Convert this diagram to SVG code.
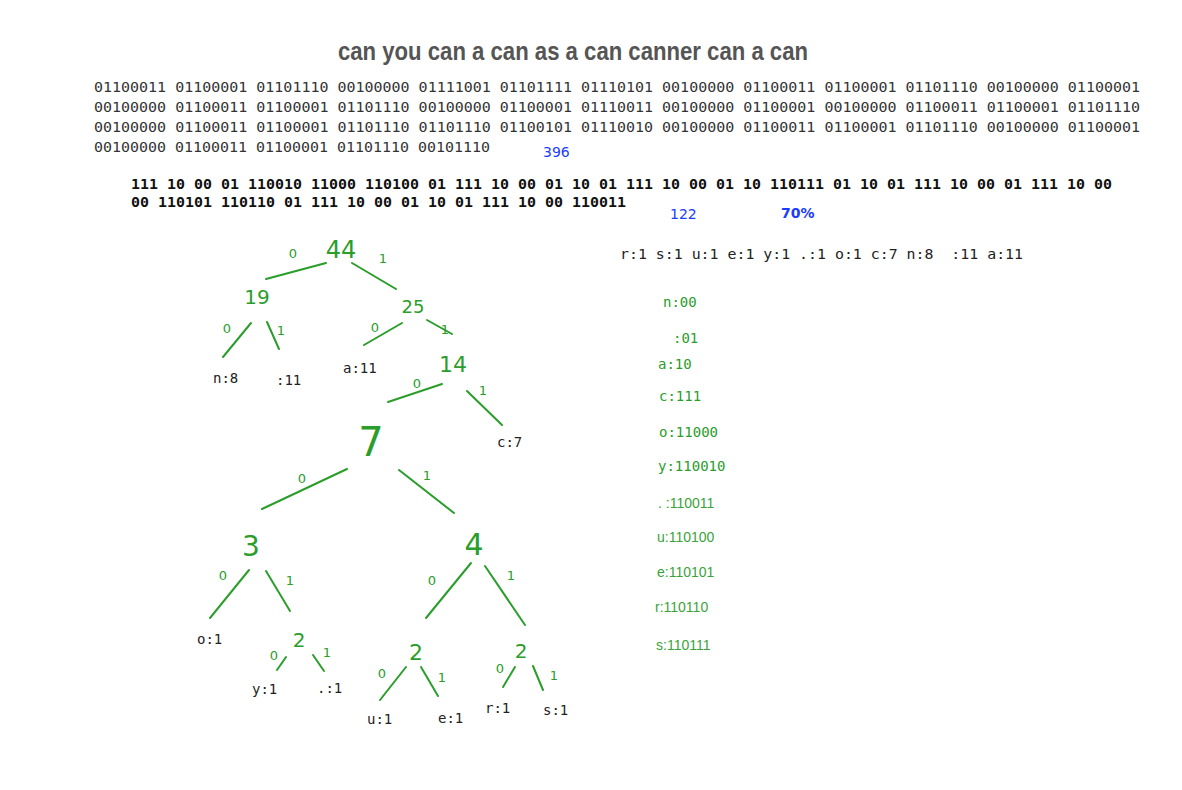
<svg xmlns="http://www.w3.org/2000/svg" width="1182" height="790" viewBox="0 0 1182 790">
<style>
.title{font-family:"Liberation Sans",Arial,sans-serif;font-size:26px;font-weight:bold;fill:#555;}
.bin{font-family:"DejaVu Sans Mono","Liberation Mono",monospace;font-size:14.5px;fill:#333;}
.enc{font-family:"DejaVu Sans Mono","Liberation Mono",monospace;font-size:14.5px;font-weight:bold;fill:#111;}
.blue{font-family:"DejaVu Sans","Liberation Sans",sans-serif;font-size:14px;fill:#1a3cff;}
.leaf{font-family:"DejaVu Sans Mono","Liberation Mono",monospace;font-size:14px;fill:#222;}
.code{font-family:"DejaVu Sans Mono","Liberation Mono",monospace;font-size:14px;fill:#2a9d2a;}
.code2{font-family:"Liberation Sans",Arial,sans-serif;font-size:14px;fill:#3aa33a;}
.hw{font-family:"DejaVu Sans","Liberation Sans",sans-serif;fill:#2a9d2a;}
.big{font-size:24px;}
.edge{font-size:13px;}
.ln{stroke:#2a9d2a;stroke-width:2;stroke-linecap:round;fill:none;}
</style>

<g id="title">
<text class="title" x="338" y="60" textLength="470" lengthAdjust="spacingAndGlyphs">can you can a can as a can canner can a can</text>
</g>

<g id="ascii-binary">
<text class="bin" x="94" y="92" textLength="1046" lengthAdjust="spacingAndGlyphs">01100011 01100001 01101110 00100000 01111001 01101111 01110101 00100000 01100011 01100001 01101110 00100000 01100001</text>
<text class="bin" x="94" y="112" textLength="1046" lengthAdjust="spacingAndGlyphs">00100000 01100011 01100001 01101110 00100000 01100001 01110011 00100000 01100001 00100000 01100011 01100001 01101110</text>
<text class="bin" x="94" y="132" textLength="1046" lengthAdjust="spacingAndGlyphs">00100000 01100011 01100001 01101110 01101110 01100101 01110010 00100000 01100011 01100001 01101110 00100000 01100001</text>
<text class="bin" x="94" y="152" textLength="396" lengthAdjust="spacingAndGlyphs">00100000 01100011 01100001 01101110 00101110</text>
<text class="blue" x="543" y="157">396</text>
</g>

<g id="huffman-encoded">
<text class="enc" x="131" y="189" textLength="981" lengthAdjust="spacingAndGlyphs">111 10 00 01 110010 11000 110100 01 111 10 00 01 10 01 111 10 00 01 10 110111 01 10 01 111 10 00 01 111 10 00</text>
<text class="enc" x="131" y="207" textLength="495" lengthAdjust="spacingAndGlyphs">00 110101 110110 01 111 10 00 01 10 01 111 10 00 110011</text>
<text class="blue" x="670" y="219">122</text>
<text class="blue" x="781" y="218" font-weight="bold">70%</text>
</g>

<g id="frequencies">
<text class="leaf" x="620" y="259" textLength="403" lengthAdjust="spacingAndGlyphs" xml:space="preserve">r:1 s:1 u:1 e:1 y:1 .:1 o:1 c:7 n:8  :11 a:11</text>
</g>

<g id="codes">
<text class="code" x="663" y="307">n:00</text>
<text class="code" x="673" y="343">:01</text>
<text class="code" x="658" y="369">a:10</text>
<text class="code" x="659" y="401">c:111</text>
<text class="code" x="659" y="437">o:11000</text>
<text class="code" x="658" y="471">y:110010</text>
<text class="code2" x="658" y="508">. :110011</text>
<text class="code2" x="657" y="542">u:110100</text>
<text class="code2" x="657" y="577">e:110101</text>
<text class="code2" x="655" y="612">r:110110</text>
<text class="code2" x="656" y="650">s:110111</text>
</g>

<g id="connectors">
<line class="ln" x1="266" y1="279" x2="326" y2="263"/>
<line class="ln" x1="352" y1="263" x2="396" y2="289"/>
<line class="ln" x1="251" y1="323" x2="223" y2="357"/>
<line class="ln" x1="267" y1="322" x2="279" y2="349"/>
<line class="ln" x1="402" y1="323" x2="364" y2="345"/>
<line class="ln" x1="427" y1="320" x2="452" y2="334"/>
<line class="ln" x1="442" y1="384" x2="388" y2="402"/>
<line class="ln" x1="467" y1="391" x2="502" y2="425"/>
<line class="ln" x1="347" y1="469" x2="262" y2="509"/>
<line class="ln" x1="399" y1="470" x2="454" y2="513"/>
<line class="ln" x1="249" y1="570" x2="210" y2="618"/>
<line class="ln" x1="266" y1="571" x2="290" y2="611"/>
<line class="ln" x1="471" y1="563" x2="426" y2="618"/>
<line class="ln" x1="485" y1="566" x2="525" y2="625"/>
<line class="ln" x1="286" y1="657" x2="277" y2="670"/>
<line class="ln" x1="313" y1="655" x2="324" y2="671"/>
<line class="ln" x1="406" y1="667" x2="380" y2="700"/>
<line class="ln" x1="421" y1="667" x2="438" y2="696"/>
<line class="ln" x1="515" y1="667" x2="503" y2="687"/>
<line class="ln" x1="533" y1="666" x2="543" y2="690"/>
</g>

<g id="edge-labels">
<text class="hw edge" x="293" y="258" text-anchor="middle">0</text>
<text class="hw edge" x="383" y="263" text-anchor="middle">1</text>
<text class="hw edge" x="227" y="333" text-anchor="middle">0</text>
<text class="hw edge" x="281" y="335" text-anchor="middle">1</text>
<text class="hw edge" x="375" y="332" text-anchor="middle">0</text>
<text class="hw edge" x="445" y="334" text-anchor="middle">1</text>
<text class="hw edge" x="417" y="388" text-anchor="middle">0</text>
<text class="hw edge" x="483" y="395" text-anchor="middle">1</text>
<text class="hw edge" x="302" y="483" text-anchor="middle">0</text>
<text class="hw edge" x="427" y="480" text-anchor="middle">1</text>
<text class="hw edge" x="223" y="580" text-anchor="middle">0</text>
<text class="hw edge" x="290" y="585" text-anchor="middle">1</text>
<text class="hw edge" x="432" y="585" text-anchor="middle">0</text>
<text class="hw edge" x="511" y="580" text-anchor="middle">1</text>
<text class="hw edge" x="274" y="660" text-anchor="middle">0</text>
<text class="hw edge" x="327" y="657" text-anchor="middle">1</text>
<text class="hw edge" x="382" y="678" text-anchor="middle">0</text>
<text class="hw edge" x="442" y="682" text-anchor="middle">1</text>
<text class="hw edge" x="500" y="673" text-anchor="middle">0</text>
<text class="hw edge" x="554" y="680" text-anchor="middle">1</text>
</g>

<g id="node-44"><text class="hw big" x="341" y="258" text-anchor="middle">44</text></g>
<g id="node-19"><text class="hw" font-size="20" x="257" y="304" text-anchor="middle">19</text></g>
<g id="node-25"><text class="hw" font-size="18" x="413" y="313" text-anchor="middle">25</text></g>
<g id="node-14"><text class="hw" font-size="22" x="453" y="372" text-anchor="middle">14</text></g>
<g id="node-7"><text class="hw" font-size="40" x="371" y="456" text-anchor="middle">7</text></g>
<g id="node-3"><text class="hw" font-size="28" x="251" y="556" text-anchor="middle">3</text></g>
<g id="node-4"><text class="hw" font-size="30" x="474" y="555" text-anchor="middle">4</text></g>
<g id="node-2a"><text class="hw" font-size="20" x="299" y="647" text-anchor="middle">2</text></g>
<g id="node-2b"><text class="hw" font-size="22" x="416" y="660" text-anchor="middle">2</text></g>
<g id="node-2c"><text class="hw" font-size="20" x="521" y="658" text-anchor="middle">2</text></g>

<g id="leaf-n"><text class="leaf" x="213" y="383">n:8</text></g>
<g id="leaf-space"><text class="leaf" x="276" y="385">:11</text></g>
<g id="leaf-a"><text class="leaf" x="343" y="373">a:11</text></g>
<g id="leaf-c"><text class="leaf" x="497" y="447">c:7</text></g>
<g id="leaf-o"><text class="leaf" x="197" y="644">o:1</text></g>
<g id="leaf-y"><text class="leaf" x="252" y="694">y:1</text></g>
<g id="leaf-dot"><text class="leaf" x="317" y="693">.:1</text></g>
<g id="leaf-u"><text class="leaf" x="367" y="724">u:1</text></g>
<g id="leaf-e"><text class="leaf" x="438" y="723">e:1</text></g>
<g id="leaf-r"><text class="leaf" x="485" y="713">r:1</text></g>
<g id="leaf-s"><text class="leaf" x="543" y="715">s:1</text></g>
</svg>
